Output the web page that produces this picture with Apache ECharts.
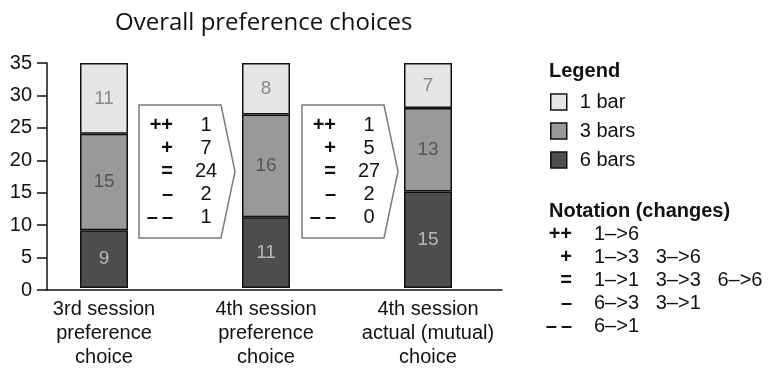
<!DOCTYPE html>
<html>
<head>
<meta charset="utf-8">
<script src="https://cdn.jsdelivr.net/npm/echarts@6/dist/echarts.min.js"></script>
<style>
  html, body { margin: 0; padding: 0; background: #fff; }
  #chart { width: 768px; height: 369px; }
</style>
</head>
<body>
<div id="chart"></div>
<script>
// Sessions along the x axis
const categories = [
  '3rd session\npreference\nchoice',
  '4th session\npreference\nchoice',
  '4th session\nactual (mutual)\nchoice'
];
// Number of participants per preferred bar count
const sixBars = [9, 11, 15];
const threeBars = [15, 16, 13];
const oneBar = [11, 8, 7];
const yTicks = { min: 0, max: 35, interval: 5 };

// Changes between sessions
const changeSymbols = ['++', '+', '=', '\u2013', '\u2013\u2009\u2013'];
const changesFirst = [1, 7, 24, 2, 1];
const changesSecond = [1, 5, 27, 2, 0];
const notationText = [
  '1\u2013>6',
  '1\u2013>3   3\u2013>6',
  '1\u2013>1   3\u2013>3   6\u2013>6',
  '6\u2013>3   3\u2013>1',
  '6\u2013>1'
];

const FONT = '"Liberation Sans", Arial, sans-serif';
const chart = echarts.init(document.getElementById('chart'));

function changeBox(left, counts) {
  const top = 105, bottom = 238, w = 82, tip = 14;
  const children = [{
    type: 'polygon',
    shape: { points: [[0, 0], [w, 0], [w + tip, (bottom - top) / 2], [w, bottom - top], [0, bottom - top]] },
    style: { fill: '#fff', stroke: '#7a7a7a', lineWidth: 1.5 }
  }];
  changeSymbols.forEach((s, i) => {
    const y = 125 - top + i * 23;
    children.push({
      type: 'text', x: 34, y: y,
      style: { text: s, font: 'bold 20px ' + FONT, fill: '#111', align: 'right', verticalAlign: 'middle' }
    });
    children.push({
      type: 'text', x: 67, y: y,
      style: { text: String(counts[i]), font: '20px ' + FONT, fill: '#111', align: 'center', verticalAlign: 'middle' }
    });
  });
  return { type: 'group', x: left, y: top, children: children };
}

const notation = [{
  type: 'text', x: 549, y: 211,
  style: { text: 'Notation (changes)', font: 'bold 20px ' + FONT, fill: '#111', verticalAlign: 'middle' }
}];
changeSymbols.forEach((s, i) => {
  const y = 234 + i * 23;
  notation.push({
    type: 'text', x: 572, y: y,
    style: { text: s, font: 'bold 20px ' + FONT, fill: '#111', align: 'right', verticalAlign: 'middle' }
  });
  notation.push({
    type: 'text', x: 594, y: y,
    style: { text: notationText[i], font: '20px ' + FONT, fill: '#111', verticalAlign: 'middle' }
  });
});

function barSeries(name, data, color, labelColor) {
  return {
    name: name, type: 'bar', stack: 'total', data: data,
    xAxisIndex: 0, yAxisIndex: 0, barWidth: 48,
    itemStyle: { color: color, borderColor: '#111', borderWidth: 1.5 },
    label: { show: true, position: 'inside', fontFamily: FONT, fontSize: 19, color: labelColor },
    emphasis: { disabled: true }
  };
}

chart.setOption({
  animation: false,
  title: {
    text: 'Overall preference choices', left: 110, top: 6,
    textStyle: { fontFamily: '"Open Sans", sans-serif', fontSize: 24, fontWeight: 'normal', color: '#111' }
  },
  grid: [
    { left: 23, right: 259, top: 63, bottom: 79 },
    { left: 47, right: 266, top: 63, bottom: 79 }
  ],
  xAxis: [
    {
      type: 'category', gridIndex: 0, data: categories,
      axisLine: { show: false }, axisTick: { show: false },
      axisLabel: { fontFamily: FONT, fontSize: 20, lineHeight: 24, color: '#111', margin: 9, interval: 0 }
    },
    {
      type: 'value', gridIndex: 1, min: 0, max: 1,
      axisLine: { show: true, lineStyle: { color: '#111', width: 1.5 } },
      axisTick: { show: false }, axisLabel: { show: false }, splitLine: { show: false }
    }
  ],
  yAxis: [
    { type: 'value', gridIndex: 0, min: yTicks.min, max: yTicks.max, show: false },
    {
      type: 'value', gridIndex: 1, min: yTicks.min, max: yTicks.max, interval: yTicks.interval,
      axisLine: { show: true, lineStyle: { color: '#111', width: 1.5 } },
      axisTick: { show: true, length: 10, lineStyle: { color: '#111', width: 1.5 } },
      axisLabel: { fontFamily: FONT, fontSize: 20, color: '#111', margin: 15 },
      splitLine: { show: false }
    }
  ],
  legend: {
    data: ['1 bar', '3 bars', '6 bars'],
    orient: 'vertical', left: 545, top: 87,
    itemWidth: 16, itemHeight: 16, itemGap: 9,
    icon: 'rect', selectedMode: false,
    itemStyle: { borderColor: '#111', borderWidth: 1.5 },
    textStyle: { fontFamily: FONT, fontSize: 20, color: '#111', lineHeight: 16, padding: [0, 0, 0, 8] }
  },
  series: [
    barSeries('6 bars', sixBars, '#4d4d4d', '#b8b8b8'),
    barSeries('3 bars', threeBars, '#999999', '#555555'),
    barSeries('1 bar', oneBar, '#e6e6e6', '#8a8a8a')
  ],
  graphic: [
    changeBox(139, changesFirst),
    changeBox(302, changesSecond),
    {
      type: 'text', x: 549, y: 71,
      style: { text: 'Legend', font: 'bold 20px ' + FONT, fill: '#111', verticalAlign: 'middle' }
    }
  ].concat(notation)
});
</script>
</body>
</html>
